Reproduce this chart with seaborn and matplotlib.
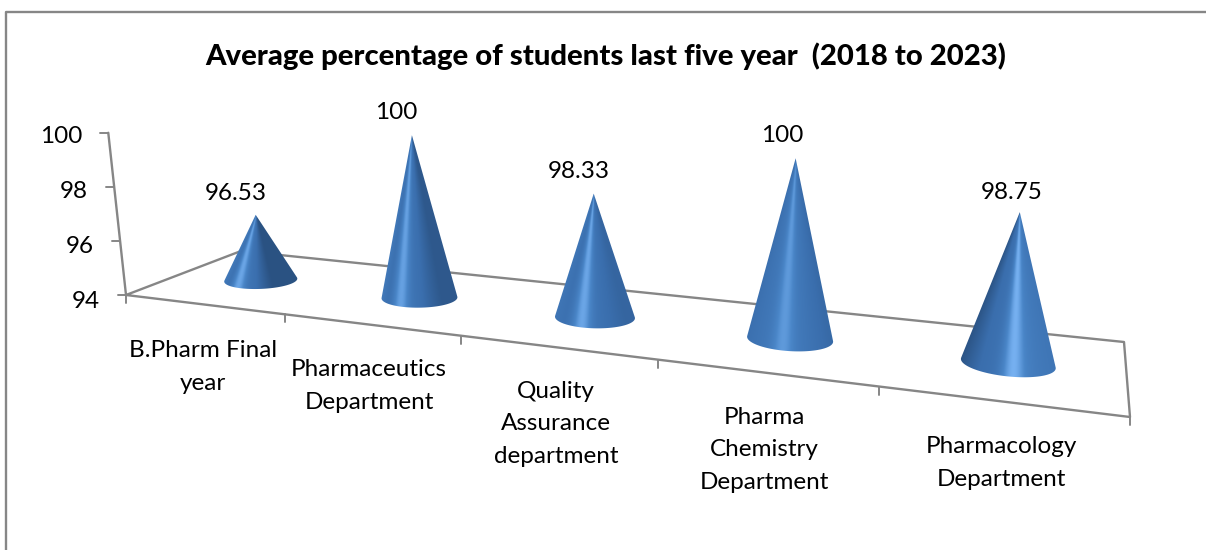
import numpy as np
import matplotlib
matplotlib.use("Agg")
import matplotlib.pyplot as plt
from matplotlib.patches import Polygon
import seaborn as sns

# ── Data ──────────────────────────────────────────────────
categories = ["B.Pharm Final\nyear", "Pharmaceutics\nDepartment",
              "Quality\nAssurance\ndepartment", "Pharma\nChemistry\nDepartment",
              "Pharmacology\nDepartment"]
values = [96.53, 100, 98.33, 100, 98.75]
value_labels = ["96.53", "100", "98.33", "100", "98.75"]
y_ticks = [94, 96, 98, 100]
title = "Average percentage of students last five year  (2018 to 2023)"

# ── Layout (pixels of the 1206x550 picture) ───────────────
floor_px = np.array([[126, 295], [1130, 417], [1124, 342], [241, 251]], float)
vanish = np.array([640.0, 5000.0])
label_pos = [(203, 367), (369, 386), (556, 424), (764, 450), (1001, 463)]
value_off = [(-20, -21), (-16, -23), (-15, -22), (-13, -23), (-8, -20)]
line_col = "#868686"

# shading per cone: palette level at left rim, left flank, light ridge, right flank, right rim
cone_peak = [-0.08, -0.05, 0.0, 0.02, 0.16]
cone_levels = [
    [0.48, 0.40, 0.88, 0.36, 0.08],
    [0.50, 0.38, 0.85, 0.36, 0.14],
    [0.44, 0.38, 0.88, 0.38, 0.26],
    [0.36, 0.44, 0.80, 0.44, 0.30],
    [0.10, 0.34, 0.95, 0.52, 0.44],
]

sns.set_theme(style="white")
plt.rcParams["font.family"] = ["Lato", "DejaVu Sans"]

fig = plt.figure(figsize=(12.06, 5.5), dpi=100)
ax = fig.add_axes([0, 0, 1, 1])


# ── Projection: floor homography plus converging verticals ─
def fit_floor():
    src = [(0, 0), (5, 0), (5, 1), (0, 1)]
    A, b = [], []
    for (u, v), (x, y) in zip(src, floor_px):
        A.append([u, v, 1, 0, 0, 0, -u * x, -v * x])
        A.append([0, 0, 0, u, v, 1, -u * y, -v * y])
        b += [x, y]
    return np.append(np.linalg.solve(np.array(A), np.array(b)), 1).reshape(3, 3)


H = fit_floor()


def project(u, v, z=94.0, unit=26.9):
    p = H @ np.array([u, v, 1.0])
    xy = p[:2] / p[2]
    d = xy - vanish
    return xy + (z - 94) * unit / p[2] * d / np.linalg.norm(d)


def draw_line(pts, lw=1.7):
    pts = np.array(pts)
    sns.lineplot(x=pts[:, 0], y=pts[:, 1], ax=ax, color=line_col, linewidth=lw,
                 estimator=None, sort=False, legend=False, zorder=1)


# ── Frame, floor and axes ─────────────────────────────────
draw_line([(6, 550), (6, 12), (1206, 12)])
draw_line(list(floor_px) + [floor_px[0]])
draw_line([project(0, 0, y_ticks[0], 27.2), project(0, 0, y_ticks[-1], 27.2)])
for t in y_ticks:
    p = project(0, 0, t, 27.2)
    draw_line([p, p + (-8, 0)], lw=1.4)
    ax.text(p[0] - 26, p[1] + 7 - (t - 94) / 2, str(t), ha="right", va="center",
            fontsize=17.5, color="black")
for i in range(len(categories) + 1):
    p = project(i, 0)
    draw_line([p, p + (0, 8)], lw=1.4)

# ── Cones: shade is constant along each ruling from the apex ─
shade = sns.blend_palette(["#264a76", "#3a6ead", "#4a86c8", "#7db7f7"], n_colors=256, as_cmap=True)
ru, rv = 0.205, 0.18
full = np.linspace(0, 2 * np.pi, 361)
grid_x, grid_y = np.meshgrid(np.arange(0, 1206, 0.5), np.arange(0, 550, 0.5))

for i, val in enumerate(values):
    u0 = i + 0.5
    apex = project(u0, 0.5, val)
    rim_full = np.array([project(u0 + ru * np.cos(a), 0.5 + rv * np.sin(a)) for a in full])
    phi_full = np.arctan2(rim_full[:, 0] - apex[0], rim_full[:, 1] - apex[1])
    # silhouette = apex plus the rim arc lying in front of the two tangent rulings
    first, last = int(np.argmin(phi_full)), int(np.argmax(phi_full))
    arc = np.arange(first, last + 1) if first < last else np.r_[first:360, 0:last + 1]
    outline = np.vstack([apex, rim_full[arc]])

    x0, x1 = outline[:, 0].min() - 2, outline[:, 0].max() + 2
    y0, y1 = outline[:, 1].min() - 2, outline[:, 1].max() + 2
    mask = (grid_x >= x0) & (grid_x <= x1) & (grid_y >= y0) & (grid_y <= y1)
    rows, cols = np.where(mask.any(axis=1))[0], np.where(mask.any(axis=0))[0]
    gx = grid_x[rows[0]:rows[-1] + 1, cols[0]:cols[-1] + 1]
    gy = grid_y[rows[0]:rows[-1] + 1, cols[0]:cols[-1] + 1]
    phi = np.arctan2(gx - apex[0], gy - apex[1])
    ts = np.cos(full[arc])
    t = np.interp(phi, phi_full[arc], ts)
    # across-cone position, running from -1 at the left tangent to +1 at the right
    t = (t - ts[0]) / (ts[-1] - ts[0]) * 2 - 1
    lv = cone_levels[i]
    base = np.interp(t, [-1, -0.55, cone_peak[i], 0.55, 1], [lv[0], lv[1], lv[1] + 0.1, lv[3], lv[4]])
    ridge = np.exp(-((t - cone_peak[i]) / 0.24) ** 2)
    level = base * (1 - ridge) + lv[2] * ridge
    im = ax.imshow(shade(level), extent=(gx[0, 0], gx[0, -1], gy[-1, 0], gy[0, 0]),
                   origin="upper", interpolation="bilinear", aspect="auto", zorder=3)
    im.set_clip_path(Polygon(outline, closed=True, transform=ax.transData))
    ax.text(apex[0] + value_off[i][0], apex[1] + value_off[i][1], value_labels[i],
            ha="center", va="center", fontsize=17.5, color="black", zorder=5)

# ── Text ──────────────────────────────────────────────────
for cat, (x, y) in zip(categories, label_pos):
    ax.text(x, y, cat, ha="center", va="center", fontsize=17.5, linespacing=1.65, color="black")
ax.text(606, 56, title, ha="center", va="center", fontsize=21.1, fontweight=900, color="black")

ax.set_xlim(0, 1206)
ax.set_ylim(550, 0)
ax.axis("off")
fig.savefig("out.png", dpi=100, facecolor="white")
